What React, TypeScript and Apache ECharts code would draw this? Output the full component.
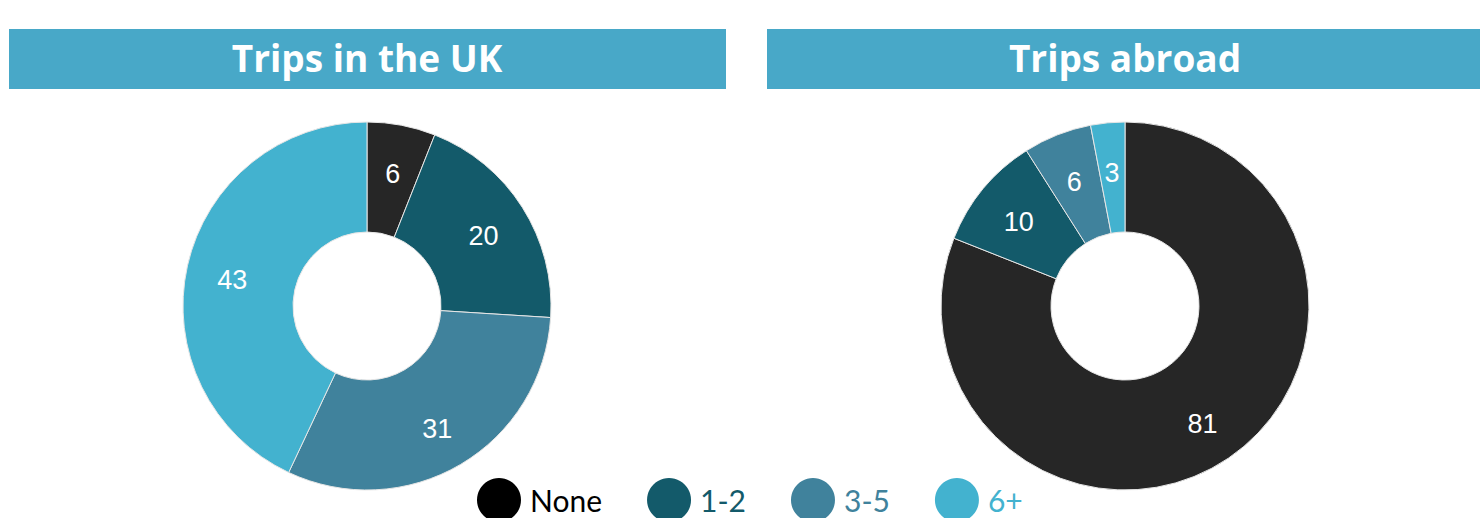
import React, { useEffect, useRef } from "react";
import * as echarts from "echarts";

const categories = ["None", "1-2", "3-5", "6+"];
const colors = ["#262626", "#135a6a", "#40829c", "#43b2cf"];
const legendIconColors = ["#000000", "#135a6a", "#40829c", "#43b2cf"];
const ukValues = [6, 20, 31, 43];
const abroadValues = [81, 10, 6, 3];
const panelTitles = ["Trips in the UK", "Trips abroad"];

export default function App() {
  const ref = useRef<HTMLDivElement>(null);
  useEffect(() => {
    if (!ref.current) return;
    const chart = echarts.init(ref.current, undefined, { renderer: "svg" });
    const mkData = (vals: number[]) =>
      vals.map((v, i) => ({ name: categories[i], value: v, itemStyle: { color: colors[i] } }));
    const pieBase = {
      type: "pie",
      radius: [74, 184],
      startAngle: 90,
      clockwise: true,
      avoidLabelOverlap: false,
      itemStyle: { borderColor: "#e6e6e6", borderWidth: 1 },
      label: { show: false },
      labelLine: { show: false },
      emphasis: { disabled: true },
      silent: true,
    };
    const labelBase = {
      type: "pie",
      radius: [86, 184],
      startAngle: 90,
      clockwise: true,
      avoidLabelOverlap: false,
      itemStyle: { color: "rgba(0,0,0,0)", borderWidth: 0 },
      label: {
        show: true,
        position: "inside",
        formatter: "{c}",
        color: "#ffffff",
        fontSize: 27,
        fontFamily: "Liberation Sans, Arial, sans-serif",
        offset: [0, 4],
      },
      labelLine: { show: false },
      emphasis: { disabled: true },
      silent: true,
    };
    const mkLabelData = (vals: number[]) =>
      vals.map((v, i) => ({ name: categories[i], value: v, itemStyle: { color: "rgba(0,0,0,0)" } }));
    const titleFont = "bold 37px 'Open Sans', sans-serif";
    chart.setOption({
      animation: false,
      color: colors,
      legend: {
        left: 477,
        top: 478,
        padding: 0,
        icon: "circle",
        itemWidth: 44,
        itemHeight: 44,
        itemGap: 45,
        selectedMode: false,
        itemStyle: { borderWidth: 0 },
        textStyle: {
          fontSize: 30,
          fontFamily: "Lato, sans-serif",
          padding: [0, 0, 0, 4],
        },
        data: categories.map((c, i) => ({
          name: c,
          itemStyle: { color: legendIconColors[i], borderWidth: 0 },
          textStyle: {
            color: legendIconColors[i],
            fontSize: 30,
            fontFamily: "Lato, sans-serif",
            padding: [0, 0, 0, 4],
          },
        })),
      },
      graphic: [
        {
          type: "rect",
          shape: { x: 9, y: 29, width: 717, height: 60 },
          style: { fill: "#48a8c8" },
          silent: true,
        },
        {
          type: "rect",
          shape: { x: 767, y: 29, width: 713, height: 60 },
          style: { fill: "#48a8c8" },
          silent: true,
        },
        {
          type: "text",
          x: 367,
          y: 57,
          style: {
            text: panelTitles[0],
            fill: "#ffffff",
            font: titleFont,
            textAlign: "center",
            textVerticalAlign: "middle",
          },
        },
        {
          type: "text",
          x: 1125,
          y: 57,
          style: {
            text: panelTitles[1],
            fill: "#ffffff",
            font: titleFont,
            textAlign: "center",
            textVerticalAlign: "middle",
          },
        },
      ],
      series: [
        { ...pieBase, name: panelTitles[0], center: [367, 306], data: mkData(ukValues) },
        { ...pieBase, name: panelTitles[1], center: [1125, 306], data: mkData(abroadValues) },
        { ...labelBase, name: panelTitles[0] + " labels", center: [367, 306], data: mkLabelData(ukValues) },
        { ...labelBase, name: panelTitles[1] + " labels", center: [1125, 306], data: mkLabelData(abroadValues) },
      ],
    });
    return () => chart.dispose();
  }, []);
  return (
    <div
      ref={ref}
      style={{ position: "absolute", left: 0, top: 0, width: 1480, height: 518, background: "#fff" }}
    />
  );
}
